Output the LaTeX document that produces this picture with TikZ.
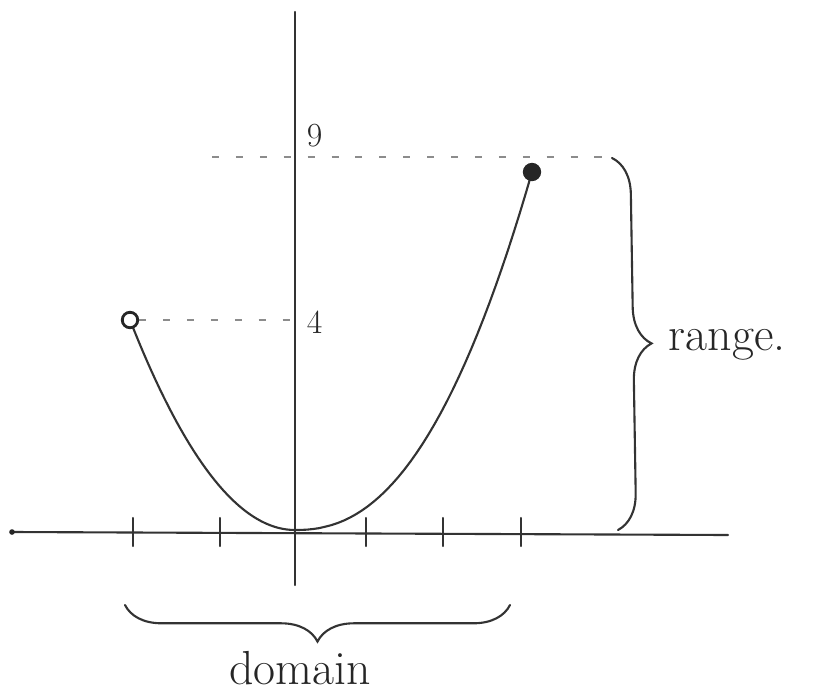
\documentclass[tikz,border=0pt]{standalone}
\usetikzlibrary{decorations.pathreplacing,positioning}
\begin{document}
\begin{tikzpicture}[x=0.025cm,y=-0.025cm,
    pen/.style={line width=1.5pt, draw=black!80, line cap=round},
    guide/.style={line width=0.8pt, draw=black!45, dash pattern=on 5pt off 12pt},
    pt/.style={circle, draw=black!85, line width=2pt, inner sep=0pt, minimum size=11pt},
    lbl/.style={font=\fontsize{24}{26}\selectfont, text=black!85},
    word/.style={font=\fontsize{34}{37}\selectfont, text=black!85},
    bracepen/.style={pen, decorate, decoration={brace, amplitude=26pt}},
]
\useasboundingbox (0,0) rectangle (824,698);
% axes
\coordinate (O) at (295,530);
\coordinate (xl) at (12,532);
\coordinate (xr) at (728,535);
\coordinate (yt) at (295,12);
\coordinate (yb) at (295,585);
\draw[pen] (xl) -- (xr);
\draw[pen] (yt) -- (yb);
\fill[black!85] (xl) circle (2pt);
% ticks
\foreach \t in {133,220,366,443,521} {
  \draw[pen] (\t,518) -- (\t,546);
}
% y labels
\coordinate (yfour) at (295,320);
\coordinate (ynine) at (295,157);
\node[lbl, anchor=west] (four) at (302,322) {4};
\node[lbl, anchor=west] (nine) at (302,136) {9};
% curve
\draw[pen] plot[domain=130:295, samples=40] (\x, {530-210*((\x-295)/165)^2});
\draw[pen] plot[domain=295:532, samples=40] (\x, {530-358*(abs(\x-295)/237)^2.3});
% end points
\node[pt, fill=white] (openpt) at (130,320) {};
\node[pt, fill=black!85] (closedpt) at (532,172) {};
% guides
\draw[guide] (openpt) -- (yfour);
\coordinate (nineL) at (212,157);
\coordinate (nineR) at (605,157);
\draw[guide] (nineL) -- (nineR);
% range
\coordinate (rtop) at (612,158);
\coordinate (rbot) at (618,530);
\draw[bracepen] (rtop) -- (rbot);
\node[word, anchor=west] (range) at (664,345) {range.};
% domain
\coordinate (dright) at (510,605);
\coordinate (dleft) at (125,605);
\draw[bracepen] (dright) -- (dleft);
\node[word] (domain) at (300,668) {domain};
\end{tikzpicture}
\end{document}
